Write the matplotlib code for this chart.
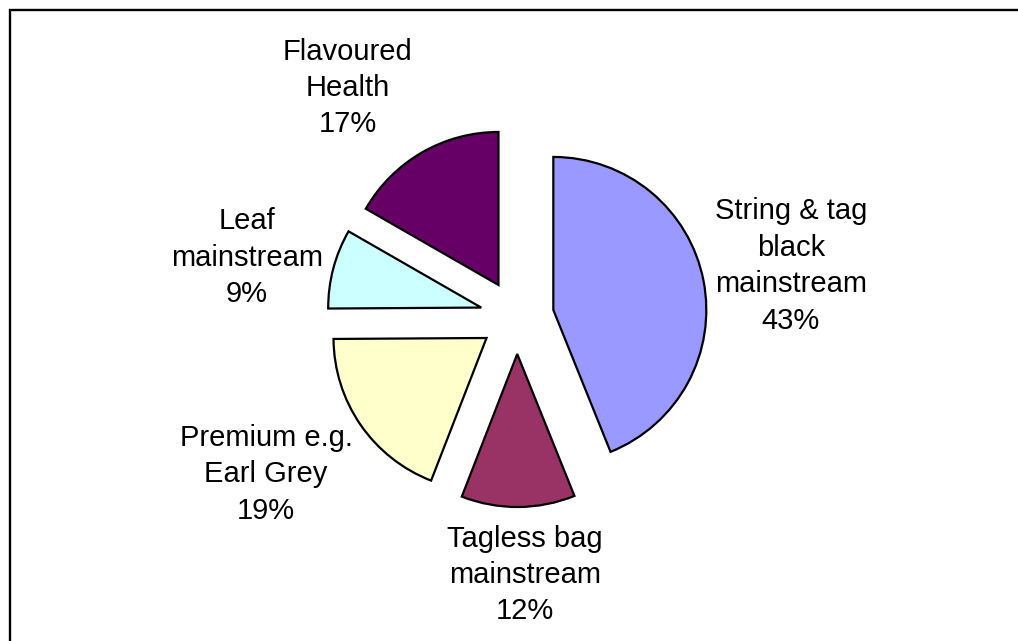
import matplotlib
matplotlib.use("Agg")
import matplotlib.pyplot as plt
from matplotlib.patches import Rectangle

# ---- data ----
categories = ["String & tag\nblack\nmainstream", "Tagless bag\nmainstream",
              "Premium e.g.\nEarl Grey", "Leaf\nmainstream", "Flavoured\nHealth"]
# slice sizes as drawn in the picture (share of the circle, %)
slice_sizes = [43.9, 12.0, 19.0, 8.4, 16.7]
# percentages as printed on the labels
pct_labels = [43, 12, 19, 9, 17]
colors = ["#9999FF", "#993366", "#FFFFCC", "#CCFFFF", "#660066"]

# ---- layout (pixel space, y measured from the top) ----
W, H = 1018, 641
pie_center_px = (517, 317)
radius = 153
explode_px = 37
label_pos_px = [(791, 266), (525, 575), (266, 474.5), (247, 257.5), (348, 88)]

fig = plt.figure(figsize=(W / 100, H / 100), dpi=100)
ax = fig.add_axes([0, 0, 1, 1])

labels = [f"{c}\n{p}%" for c, p in zip(categories, pct_labels)]
wedges, texts = ax.pie(slice_sizes, labels=labels, colors=colors,
                       explode=[explode_px] * len(slice_sizes),
                       startangle=90, counterclock=False, radius=radius,
                       center=(pie_center_px[0], H - pie_center_px[1]),
                       frame=False,
                       wedgeprops=dict(edgecolor="black", linewidth=1.6),
                       textprops=dict(fontsize=21, family="Liberation Sans",
                                      color="black"))

for t, (lx, ly) in zip(texts, label_pos_px):
    t.set_position((lx, H - ly))
    t.set_ha("center")
    t.set_va("center")
    t.set_multialignment("center")
    t.set_linespacing(1.38)

ax.set_xlim(0, W)
ax.set_ylim(0, H)
ax.set_aspect("equal")
ax.axis("off")

# chart border (runs past the right and bottom edges of the image)
ax.add_patch(Rectangle((10, -30), W + 50, H - 10 + 30, fill=False,
                       edgecolor="black", linewidth=1.7, clip_on=False))

fig.savefig("out.png", dpi=100)
